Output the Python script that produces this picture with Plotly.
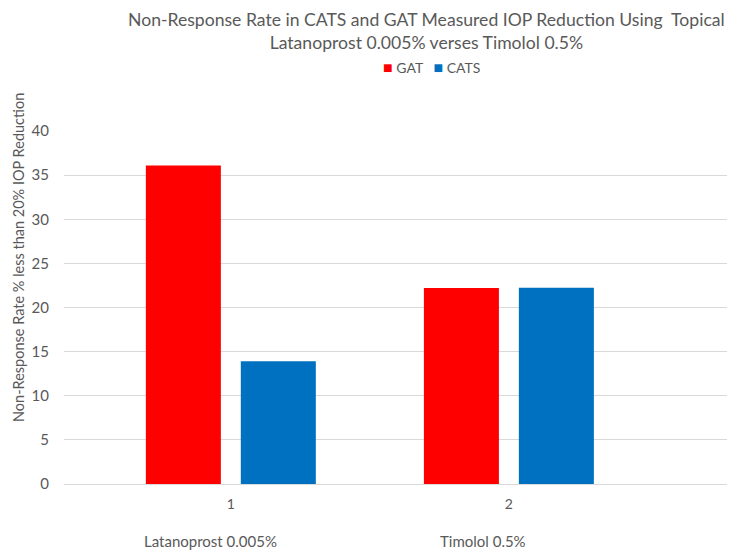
import plotly.graph_objects as go

categories = ["1", "2"]
gat_values = [36.1, 22.2]
cats_values = [13.9, 22.25]
drug_labels = ["Latanoprost 0.005%", "Timolol 0.5%"]
title_text = "Non-Response Rate in CATS and GAT Measured IOP Reduction Using  Topical<br>Latanoprost 0.005% verses Timolol 0.5%"
y_title = "Non-Response Rate % less than 20% IOP Reduction"

OFF = 8  # page body margin
W, H = 735 - OFF, 553 - OFF
L, R, T, B = 64 - OFF, 2, 131 - OFF, H - (484 - OFF)
pw = W - L - R
ph = H - T - B

def px_x(px):
    return (px - OFF - L) / pw

def px_y(py):
    return (H - B - (py - OFF)) / ph

FONT = "Lato"
GRAY = "#595959"

fig = go.Figure()
fig.add_trace(go.Bar(x=categories, y=gat_values, name="GAT",
                     marker=dict(color="#FF0000", line=dict(width=0))))
fig.add_trace(go.Bar(x=categories, y=cats_values, name="CATS",
                     marker=dict(color="#0070C0", line=dict(width=0))))

legend_text = ("<span style='color:#FF0000;font-size:16px'>■</span> GAT   "
               "<span style='color:#0070C0;font-size:16px'>■</span> CATS")

annotations = [
    dict(text=title_text, x=px_x(426), y=px_y(31), xref="paper", yref="paper",
         showarrow=False, font=dict(family=FONT, size=17.6, color=GRAY),
         xanchor="center", yanchor="middle"),
    dict(text=legend_text, x=px_x(431), y=px_y(67), xref="paper", yref="paper",
         showarrow=False, font=dict(family=FONT, size=14, color=GRAY),
         xanchor="center", yanchor="middle"),
    dict(text=y_title, x=px_x(18), y=px_y(258), xref="paper", yref="paper",
         showarrow=False, textangle=-90, font=dict(family=FONT, size=14.5, color=GRAY),
         xanchor="center", yanchor="middle"),
]
for lab, cx in zip(drug_labels, [210, 483]):
    annotations.append(dict(text=lab, x=px_x(cx), y=px_y(541), xref="paper", yref="paper",
                            showarrow=False, font=dict(family=FONT, size=15, color=GRAY),
                            xanchor="center", yanchor="middle"))

fig.update_layout(
    width=W, height=H,
    margin=dict(l=L, r=R, t=T, b=B),
    paper_bgcolor="white", plot_bgcolor="white",
    barmode="group", bargap=0.317, bargroupgap=0.21,
    font=dict(family=FONT, size=14, color=GRAY),
    showlegend=False,
    annotations=annotations,
    xaxis=dict(type="category", range=[-0.60, 1.806], showgrid=False,
               showline=True, linecolor="#D9D9D9", linewidth=1, ticks="",
               tickfont=dict(family=FONT, size=14, color=GRAY), ticklabelstandoff=7),
    yaxis=dict(range=[0, 40], dtick=5, showgrid=True, gridcolor="#D9D9D9", gridwidth=1,
               zeroline=False, showline=False, ticks="",
               tickfont=dict(family=FONT, size=15, color=GRAY), ticklabelstandoff=14),
)

fig.write_html("out.html")
